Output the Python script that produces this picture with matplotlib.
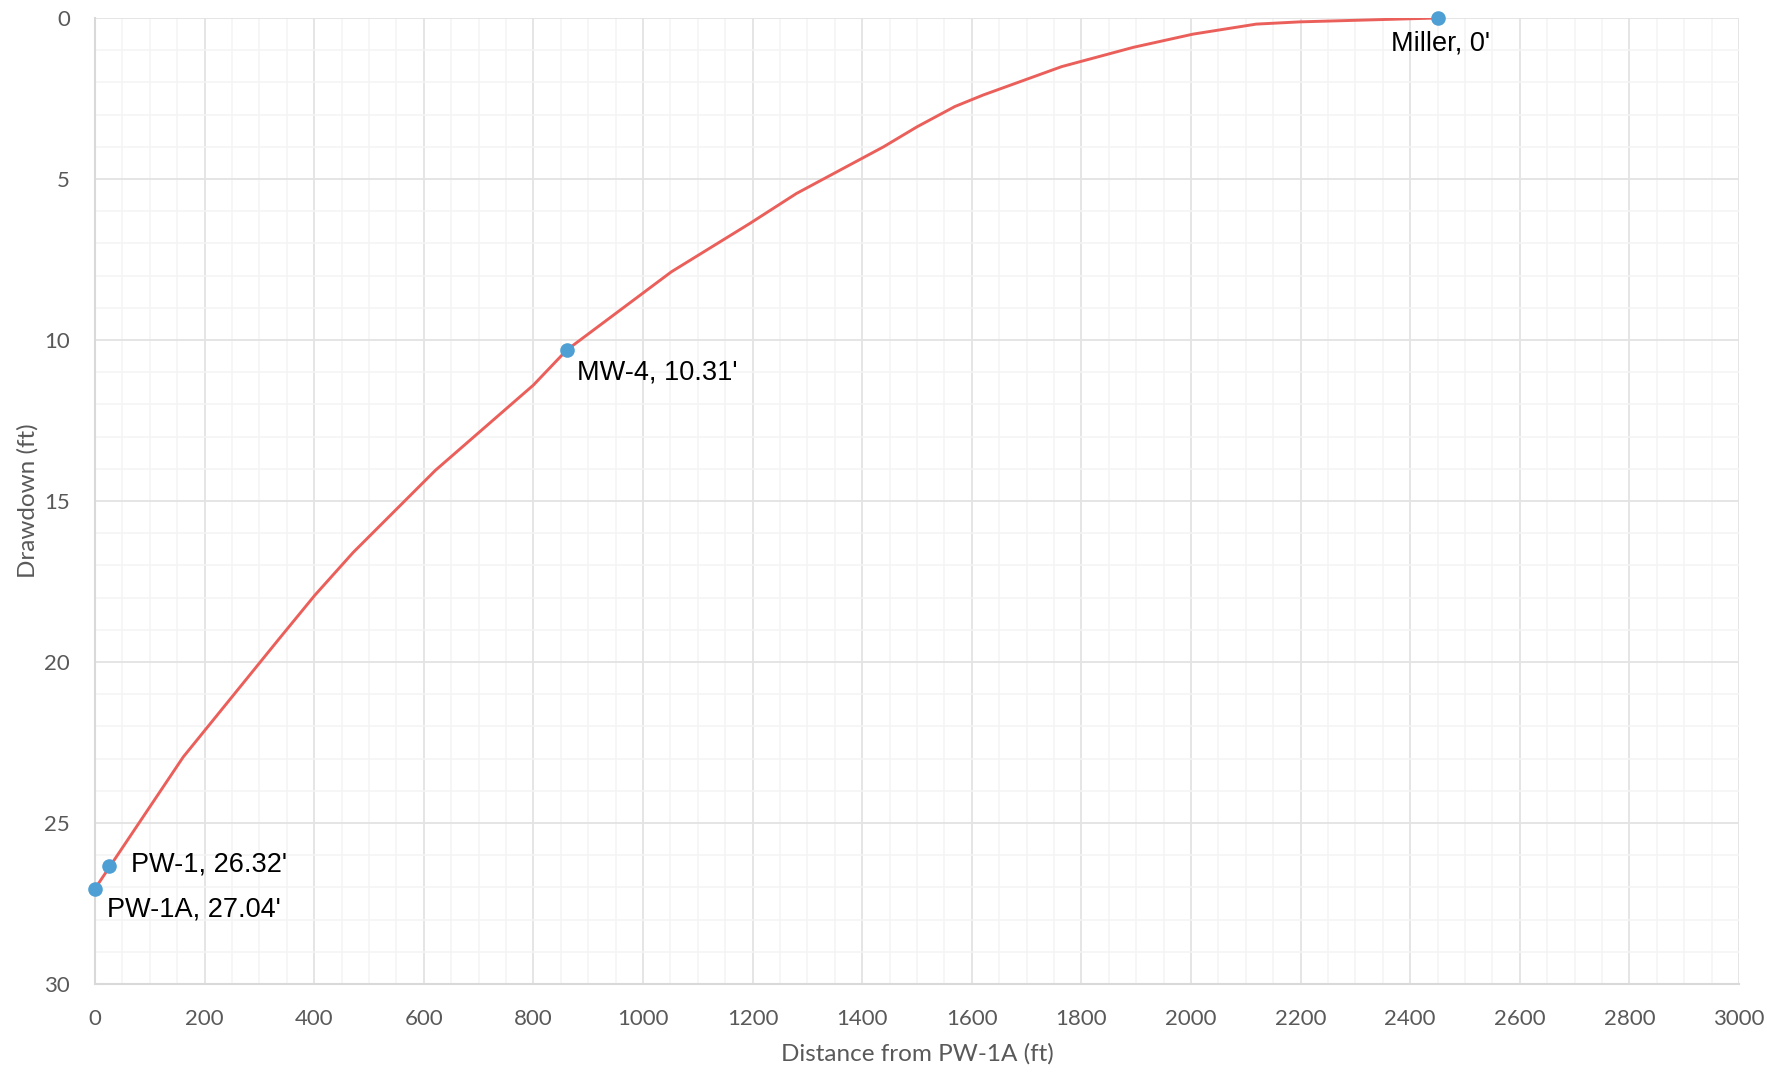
import numpy as np
import matplotlib
matplotlib.use("Agg")
import matplotlib.pyplot as plt
from matplotlib.ticker import MultipleLocator

# modelled drawdown curve
curve_x = [0, 161, 335, 401, 471, 621, 800, 861, 1052, 1195, 1280,
           1439, 1500, 1569, 1621, 1764, 1895, 2004, 2119, 2199, 2450]
curve_y = [27.04, 22.95, 19.3, 17.93, 16.6, 14.05, 11.4, 10.31, 7.88,
           6.38, 5.45, 4.0, 3.38, 2.75, 2.39, 1.51, 0.91, 0.50, 0.19, 0.12, 0.0]

# observed wells
wells = ["PW-1A", "PW-1", "MW-4", "Miller"]
well_x = [0, 25, 861, 2450]
well_y = [27.04, 26.32, 10.31, 0]
well_lbl = ["PW-1A, 27.04'", "PW-1, 26.32'", "MW-4, 10.31'", "Miller, 0'"]

W, H, dpi = 1767, 1072, 100
fig = plt.figure(figsize=(W / dpi, H / dpi), dpi=dpi)
ax = fig.add_axes([95 / W, 1 - 984 / H, (1739 - 95) / W, (984 - 18) / H])

ax.plot(curve_x, curve_y, color="#EB5F5B", lw=2.1, zorder=3)
ax.plot(well_x, well_y, "o", color="#4E9FD3", ms=10.5, mec="none", zorder=4, clip_on=False)

# label offsets in pixels (dx, dy, ha, va)
offs = [(12, -21, "left", "center"), (22, 1, "left", "center"),
        (10, -23, "left", "center"), (3, -25, "center", "center")]
for x, y, t, (dx, dy, ha, va) in zip(well_x, well_y, well_lbl, offs):
    ax.annotate(t, (x, y), xytext=(dx, dy), textcoords="offset pixels",
                ha=ha, va=va, fontsize=19.5, family="Liberation Sans", color="black", zorder=5)

ax.set_xlim(0, 3000)
ax.set_ylim(30, 0)
ax.xaxis.set_major_locator(MultipleLocator(200))
ax.xaxis.set_minor_locator(MultipleLocator(50))
ax.yaxis.set_major_locator(MultipleLocator(5))
ax.yaxis.set_minor_locator(MultipleLocator(1))
ax.grid(which="major", color="#E3E3E3", lw=1.3, zorder=0)
ax.grid(which="minor", color="#F4F4F4", lw=1.1, zorder=0)
ax.set_axisbelow(True)

for s in ["top", "right"]:
    ax.spines[s].set_visible(False)
for s in ["left", "bottom"]:
    ax.spines[s].set_color("#D9D9D9")
    ax.spines[s].set_linewidth(1.5)

ax.tick_params(which="both", length=0)
ax.tick_params(axis="x", pad=18, labelsize=16, labelcolor="#595959")
ax.tick_params(axis="y", pad=18, labelsize=16, labelcolor="#595959")
for lab in ax.get_xticklabels() + ax.get_yticklabels():
    lab.set_family("Lato")

ax.set_xlabel("Distance from PW-1A (ft)", family="Lato", fontsize=17.5, color="#595959", labelpad=10)
ax.set_ylabel("Drawdown (ft)", family="Lato", fontsize=17.5, color="#595959", labelpad=4)

fig.savefig("out.png", dpi=dpi, facecolor="white")
